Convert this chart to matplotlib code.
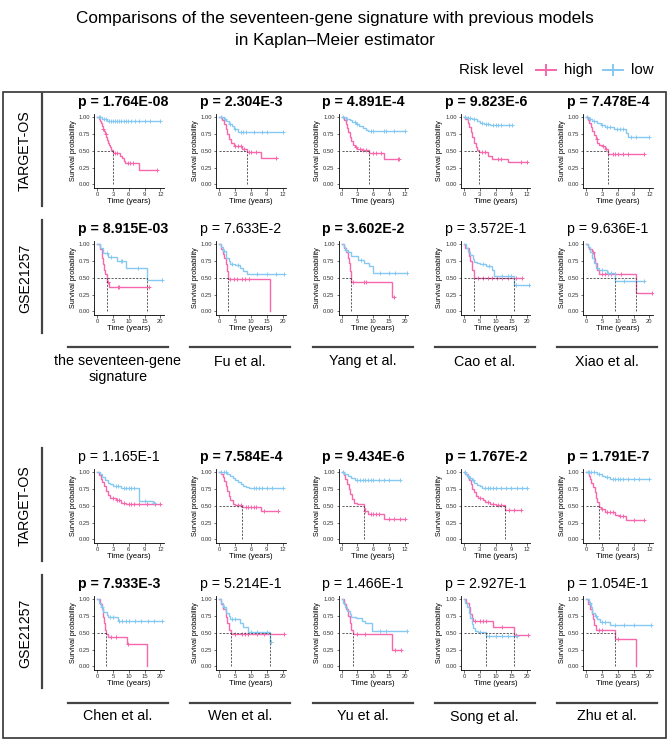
import matplotlib
matplotlib.use('Agg')
import numpy as np
import matplotlib.pyplot as plt
from matplotlib.lines import Line2D
from matplotlib.patches import Rectangle

plt.rcParams['font.family'] = ['Liberation Sans', 'DejaVu Sans']

W, H = 669, 742
HIGH = '#F767AB'
LOW = '#85C9F2'

models = ['the seventeen-gene\nsignature', 'Fu et al.', 'Yang et al.', 'Cao et al.', 'Xiao et al.',
          'Chen et al.', 'Wen et al.', 'Yu et al.', 'Song et al.', 'Zhu et al.']
datasets = ['TARGET-OS', 'GSE21257']
p_target = ['1.764E-08', '2.304E-3', '4.891E-4', '9.823E-6', '7.478E-4',
            '1.165E-1', '7.584E-4', '9.434E-6', '1.767E-2', '1.791E-7']
p_gse = ['8.915E-03', '7.633E-2', '3.602E-2', '3.572E-1', '9.636E-1',
         '7.933E-3', '5.214E-1', '1.466E-1', '2.927E-1', '1.054E-1']

# TARGET-OS, high risk: event times, survival after each step, last follow-up, censored times
target_high_t = [
    [0.3, 0.5, 0.7, 0.9, 1.1, 1.3, 1.5, 1.7, 1.9, 2.1, 2.3, 2.5, 2.7, 2.95, 4.4, 4.7, 5.0, 5.3, 8.0],
    [0.5, 0.8, 1.2, 1.5, 1.8, 2.2, 2.7, 4.2, 5.2, 7.9],
    [0.5, 0.8, 1.0, 1.2, 1.5, 1.8, 2.1, 2.5, 3.0, 3.8, 5.25, 8.0],
    [0.3, 0.7, 1.0, 1.3, 1.6, 1.9, 2.2, 2.5, 2.95, 4.5, 5.3, 8.3],
    [0.3, 0.6, 0.9, 1.2, 1.5, 1.8, 2.1, 2.5, 3.0, 3.6, 4.23],
    [0.4, 0.8, 1.0, 1.3, 1.6, 2.0, 2.5, 3.5, 4.5, 5.5],
    [0.3, 0.6, 0.9, 1.2, 1.5, 1.8, 2.1, 2.5, 3.0, 4.3, 7.9],
    [0.4, 0.7, 1.0, 1.3, 1.6, 2.0, 2.4, 3.0, 4.17, 4.4, 5.0, 8.0],
    [0.3, 0.8, 1.0, 1.3, 1.6, 2.0, 2.3, 2.6, 3.6, 4.0, 5.0, 6.0, 7.8],
    [0.5, 0.8, 1.0, 1.3, 1.6, 1.9, 2.1, 2.34, 2.8, 3.5, 5.4, 6.2, 7.6],
]
target_high_s = [
    [0.97, 0.94, 0.91, 0.87, 0.83, 0.79, 0.75, 0.70, 0.66, 0.62, 0.58, 0.55, 0.52, 0.47, 0.43, 0.39, 0.35, 0.32, 0.21],
    [0.96, 0.90, 0.82, 0.75, 0.68, 0.62, 0.57, 0.53, 0.49, 0.40],
    [0.96, 0.90, 0.84, 0.78, 0.70, 0.64, 0.58, 0.55, 0.53, 0.52, 0.47, 0.38],
    [0.97, 0.92, 0.86, 0.78, 0.70, 0.62, 0.56, 0.52, 0.49, 0.42, 0.38, 0.34],
    [0.96, 0.92, 0.86, 0.80, 0.73, 0.67, 0.62, 0.59, 0.57, 0.53, 0.45],
    [0.96, 0.90, 0.85, 0.80, 0.72, 0.66, 0.62, 0.58, 0.55, 0.53],
    [0.97, 0.93, 0.87, 0.80, 0.72, 0.64, 0.58, 0.53, 0.51, 0.48, 0.43],
    [0.96, 0.90, 0.83, 0.75, 0.68, 0.60, 0.55, 0.53, 0.47, 0.43, 0.38, 0.31],
    [0.97, 0.92, 0.88, 0.82, 0.75, 0.70, 0.65, 0.62, 0.58, 0.56, 0.53, 0.51, 0.44],
    [0.95, 0.90, 0.84, 0.78, 0.70, 0.62, 0.56, 0.49, 0.45, 0.41, 0.37, 0.35, 0.29],
]
target_high_end = [11.3, 10.9, 10.9, 12.0, 10.9, 12.0, 11.1, 12.0, 10.9, 10.9]
target_high_cens = [
    [1.2, 1.6, 3.3, 3.8, 5.8, 6.3, 6.8, 11.3],
    [3.0, 3.5, 4.0, 4.6, 5.6, 6.0, 7.0, 10.7],
    [2.8, 3.5, 4.0, 4.6, 6.0, 6.5, 7.5, 10.6, 10.9],
    [3.5, 4.0, 6.5, 7.0, 10.8, 12.0],
    [2.0, 3.2, 3.8, 5.0, 5.5, 6.0, 7.0, 8.0, 10.9],
    [3.0, 3.8, 4.2, 5.0, 6.0, 6.5, 7.0, 8.0, 9.5, 11.0, 12.0],
    [3.5, 4.0, 5.0, 5.5, 6.0, 6.5, 7.0, 8.5, 11.1],
    [4.5, 5.5, 6.0, 6.5, 7.0, 9.0, 10.0, 11.0, 12.0],
    [3.0, 4.5, 5.5, 6.5, 7.0, 8.5, 9.5, 10.9],
    [3.0, 4.0, 4.5, 5.0, 6.5, 7.0, 9.0, 10.9],
]

# TARGET-OS, low risk
target_low_t = [
    [0.9, 1.9],
    [0.8, 1.2, 1.8, 2.3, 2.8, 3.5],
    [0.8, 1.5, 2.0, 2.8, 3.3, 4.0, 4.6, 5.0],
    [0.5, 1.5, 2.5, 3.0, 3.8, 5.0],
    [0.5, 1.2, 2.0, 2.8, 3.5, 5.3, 7.6, 8.0],
    [0.5, 1.0, 1.5, 2.0, 2.5, 3.0, 4.5, 8.0, 10.5],
    [1.5, 2.0, 2.5, 3.0, 3.5, 4.0, 4.5, 5.0, 5.6],
    [0.5, 1.2, 1.8, 2.5],
    [0.3, 0.6, 1.0, 1.5, 2.0, 2.5, 3.0, 3.5],
    [2.0, 3.0, 3.5, 4.5],
]
target_low_s = [
    [0.98, 0.95],
    [0.98, 0.95, 0.90, 0.87, 0.82, 0.78],
    [0.98, 0.96, 0.93, 0.90, 0.87, 0.84, 0.81, 0.80],
    [0.99, 0.97, 0.95, 0.92, 0.90, 0.88],
    [0.98, 0.95, 0.92, 0.88, 0.86, 0.82, 0.76, 0.71],
    [0.97, 0.93, 0.88, 0.84, 0.82, 0.80, 0.76, 0.57, 0.55],
    [0.98, 0.95, 0.92, 0.89, 0.86, 0.83, 0.80, 0.78, 0.77],
    [0.98, 0.95, 0.92, 0.89],
    [0.98, 0.95, 0.92, 0.88, 0.84, 0.81, 0.79, 0.77],
    [0.98, 0.95, 0.93, 0.90],
]
target_low_end = [11.9, 12.0, 12.0, 9.2, 12.0, 10.8, 12.0, 11.1, 12.0, 12.0]
target_low_cens = [
    [0.3, 0.6, 1.3, 1.6, 2.2, 2.6, 3.0, 3.4, 3.8, 4.2, 4.6, 5.0, 5.4, 5.8, 6.5, 7.2, 8.0, 9.0, 10.0, 11.9],
    [0.3, 1.0, 2.0, 3.0, 4.0, 4.5, 5.0, 6.5, 8.0, 9.0, 12.0],
    [0.3, 1.0, 2.5, 3.0, 5.5, 6.0, 8.0, 8.5, 10.0, 12.0],
    [0.3, 0.8, 1.2, 2.0, 3.4, 4.2, 4.6, 5.5, 6.0, 6.5, 7.0, 8.5, 9.2],
    [0.2, 0.8, 1.5, 3.0, 4.0, 4.6, 5.8, 6.5, 7.0, 8.5, 9.5, 12.0],
    [3.5, 4.0, 5.0, 5.5, 6.0, 6.5, 7.0, 9.0, 10.8],
    [0.3, 0.8, 1.2, 6.5, 7.0, 7.5, 8.0, 9.0, 10.0, 12.0],
    [0.3, 3.0, 3.5, 4.0, 4.5, 5.0, 5.5, 6.0, 7.0, 8.0, 9.0, 11.1],
    [0.2, 0.8, 1.2, 1.8, 4.0, 4.5, 5.0, 5.5, 6.0, 7.0, 8.0, 9.0, 10.0, 11.0, 12.0],
    [0.3, 0.6, 1.0, 1.5, 2.5, 4.0, 5.0, 5.5, 6.0, 6.5, 7.0, 8.0, 9.0, 10.0, 12.0],
]

# GSE21257, high risk
gse_high_t = [
    [0.8, 1.5, 2.0, 2.3, 2.6, 3.0, 3.8],
    [0.5, 1.0, 1.5, 2.0, 2.5, 2.84, 15.9],
    [0.8, 1.5, 2.0, 2.3, 2.6, 2.95, 15.8],
    [0.5, 1.5, 2.0, 2.6, 3.33],
    [0.5, 1.0, 1.8, 2.5, 2.8, 3.3, 4.0, 15.6],
    [0.8, 1.5, 2.0, 2.3, 2.6, 2.9, 3.5, 9.3, 15.7],
    [0.5, 1.2, 2.0, 2.5, 3.0, 3.8],
    [0.8, 1.5, 2.0, 2.5, 3.0, 3.47, 15.8],
    [0.6, 1.5, 2.0, 2.5, 3.0, 9.06, 15.8],
    [0.5, 1.2, 1.8, 2.2, 2.5, 3.0, 9.16, 15.8],
]
gse_high_s = [
    [0.93, 0.80, 0.70, 0.62, 0.55, 0.44, 0.37],
    [0.93, 0.86, 0.80, 0.70, 0.60, 0.48, 0.0],
    [0.95, 0.88, 0.80, 0.72, 0.60, 0.44, 0.22],
    [0.95, 0.82, 0.75, 0.62, 0.50],
    [0.96, 0.93, 0.88, 0.80, 0.72, 0.62, 0.56, 0.28],
    [0.93, 0.85, 0.74, 0.64, 0.55, 0.48, 0.44, 0.33, 0.0],
    [0.93, 0.85, 0.73, 0.65, 0.55, 0.49],
    [0.93, 0.85, 0.75, 0.64, 0.55, 0.49, 0.24],
    [0.95, 0.88, 0.78, 0.72, 0.68, 0.58, 0.47],
    [0.93, 0.86, 0.78, 0.70, 0.62, 0.54, 0.41, 0.0],
]
gse_high_end = [16.4, 15.9, 16.4, 18.4, 20.8, 15.7, 20.5, 18.8, 20.2, 15.8]
gse_high_cens = [
    [3.3, 6.5, 7.0, 16.4],
    [3.5, 4.5, 5.5, 7.0, 8.0, 9.5],
    [3.5, 7.0, 7.6, 16.4],
    [4.5, 6.0, 7.5, 9.0, 10.5, 12.0, 14.0, 16.5, 18.4],
    [2.2, 5.0, 6.0, 7.0, 8.0, 9.0, 11.0, 20.8],
    [4.5, 6.0, 9.8],
    [5.0, 7.0, 8.0, 9.0, 12.0, 14.0, 16.0, 20.5],
    [5.0, 7.5, 17.0, 18.8],
    [3.5, 5.0, 6.0, 7.0, 12.0, 16.5, 20.2],
    [4.0, 5.0, 10.0],
]

# GSE21257, low risk
gse_low_t = [
    [1.0, 2.0, 3.5, 6.3, 9.0, 15.8],
    [0.5, 1.0, 2.0, 3.0, 3.5, 5.0, 6.5, 7.6, 8.6],
    [0.6, 1.2, 2.0, 2.95, 5.05, 7.2, 8.7, 9.8],
    [0.8, 1.4, 2.0, 2.8, 3.3, 4.0, 5.0, 7.0, 9.0, 9.5, 15.8],
    [0.5, 1.2, 1.8, 2.4, 3.2, 4.0, 6.5, 9.16],
    [0.6, 1.2, 2.0, 3.0, 3.5, 6.6],
    [0.6, 1.2, 2.0, 3.0, 3.5, 6.5, 7.5, 9.0, 16.06],
    [0.5, 1.2, 1.8, 2.5, 3.0, 4.5, 6.5, 7.5, 9.5],
    [0.5, 1.0, 1.5, 2.0, 2.5, 3.0, 3.5, 4.5, 6.98],
    [0.8, 1.5, 2.0, 2.8, 3.5, 4.5, 7.5],
]
gse_low_s = [
    [0.94, 0.87, 0.81, 0.75, 0.64, 0.47],
    [0.96, 0.90, 0.80, 0.75, 0.70, 0.69, 0.65, 0.60, 0.55],
    [0.96, 0.92, 0.88, 0.82, 0.77, 0.72, 0.67, 0.575],
    [0.95, 0.88, 0.84, 0.78, 0.74, 0.72, 0.70, 0.67, 0.61, 0.53, 0.40],
    [0.96, 0.88, 0.80, 0.72, 0.65, 0.62, 0.57, 0.46],
    [0.95, 0.88, 0.81, 0.76, 0.73, 0.68],
    [0.95, 0.88, 0.80, 0.75, 0.70, 0.64, 0.58, 0.52, 0.36],
    [0.95, 0.88, 0.83, 0.78, 0.74, 0.72, 0.68, 0.65, 0.53],
    [0.95, 0.88, 0.80, 0.72, 0.63, 0.57, 0.53, 0.51, 0.46],
    [0.95, 0.88, 0.80, 0.75, 0.70, 0.66, 0.61],
]
gse_low_end = [20.5, 20.3, 20.5, 20.5, 18.2, 20.5, 16.2, 20.5, 16.9, 20.5]
gse_low_cens = [
    [3.0, 4.5, 7.5, 8.0, 13.0, 20.5],
    [1.5, 4.0, 6.0, 12.0, 15.0, 18.0, 20.3],
    [1.5, 6.0, 12.0, 15.0, 17.0, 20.5],
    [6.0, 8.0, 12.0, 14.0, 15.0, 16.5, 20.5],
    [5.0, 7.0, 8.0, 12.0, 18.2],
    [1.5, 4.0, 5.0, 7.0, 8.0, 9.0, 10.0, 12.0, 14.0, 16.0, 18.0, 20.5],
    [1.5, 4.0, 5.0, 10.0, 12.0, 15.0, 16.2],
    [12.0, 14.0, 20.5],
    [5.0, 8.0, 10.0, 12.0, 14.0, 16.9],
    [1.2, 3.0, 5.0, 6.0, 9.0, 12.0, 15.0, 20.5],
]

fig = plt.figure(figsize=(W / 100, H / 100), dpi=100)


def fx(x):
    return x / W


def fy(y):
    return 1 - y / H


def surv_at(t, s, x):
    i = np.searchsorted(t, x, side='right')
    return 1.0 if i == 0 else s[i - 1]


def km_panel(ax, curves, xmax, step):
    meds = []
    for t, s, end, cens, col in curves:
        ax.plot([0] + t + [end], [1] + s + [s[-1]], drawstyle='steps-post',
                color=col, lw=1.0, solid_joinstyle='miter')
        ax.plot(cens, [surv_at(t, s, c) for c in cens], ls='none', marker='+',
                ms=3.4, mew=0.7, color=col)
        below = [ti for ti, si in zip(t, s) if si <= 0.5]
        if below:
            meds.append(below[0])
    if meds:
        ax.plot([0, max(meds)], [0.5, 0.5], color='#333333', lw=0.55, dashes=(2.8, 1.8))
        for m in meds:
            ax.plot([m, m], [0, 0.5], color='#333333', lw=0.55, dashes=(2.8, 1.8))
    pad = xmax * 0.05
    ax.set_xlim(-pad, xmax + pad)
    ax.set_ylim(-0.05, 1.05)
    ax.set_xticks(np.arange(0, xmax + 0.1, step))
    ax.set_yticks([0, 0.25, 0.5, 0.75, 1.0])
    ax.set_yticklabels(['0.00', '0.25', '0.50', '0.75', '1.00'])
    for side in ['top', 'right']:
        ax.spines[side].set_visible(False)
    for side in ['left', 'bottom']:
        ax.spines[side].set_linewidth(0.6)
    ax.tick_params(labelsize=4.2, length=1.8, width=0.5, pad=1, colors='#333333')
    ax.set_ylabel('Survival probability', fontsize=5.2, labelpad=1.5)
    ax.set_xlabel('Time (years)', fontsize=5.6, labelpad=1)


col_left = [94, 216.25, 338.5, 460.75, 583]
row_top = [114, 241, 469, 596]
ax_w, ax_h = 69.6, 73.7

for k in range(10):
    block, c = divmod(k, 5)
    for d in range(2):
        top = row_top[block * 2 + d]
        ax = fig.add_axes([fx(col_left[c]), fy(top + ax_h), ax_w / W, ax_h / H])
        if d == 0:
            curves = [(target_high_t[k], target_high_s[k], target_high_end[k], target_high_cens[k], HIGH),
                      (target_low_t[k], target_low_s[k], target_low_end[k], target_low_cens[k], LOW)]
            km_panel(ax, curves, 12, 3)
            p = p_target[k]
        else:
            curves = [(gse_high_t[k], gse_high_s[k], gse_high_end[k], gse_high_cens[k], HIGH),
                      (gse_low_t[k], gse_low_s[k], gse_low_end[k], gse_low_cens[k], LOW)]
            km_panel(ax, curves, 20, 5)
            p = p_gse[k]
        fig.text(fx(col_left[c] - 16), fy(top - 12), 'p = ' + p, fontsize=10.2,
                 fontweight='bold' if float(p) < 0.05 else 'normal', ha='left', va='center')

# row labels with vertical bars
for block in range(2):
    for d in range(2):
        top = row_top[block * 2 + d]
        fig.text(fx(25), fy(top + ax_h / 2), datasets[d], rotation=90, fontsize=10.2,
                 ha='center', va='center')
        fig.add_artist(Line2D([fx(42), fx(42)], [fy(top - 21), fy(top + ax_h + 18)],
                              color='#444444', lw=1.6))

# column labels with horizontal bars
for k in range(10):
    block, c = divmod(k, 5)
    cx = col_left[c] + 24
    by = [347.5, 702.5][block]
    fig.add_artist(Line2D([fx(cx - 50), fx(cx + 50)], [fy(by), fy(by)], color='#444444', lw=1.6))
    fig.text(fx(cx), fy(by + 7), models[k], fontsize=10.3, ha='center', va='top', linespacing=1.15)

# outer frame
fig.add_artist(Rectangle((fx(3), fy(738)), (666 - 3) / W, (738 - 92) / H, transform=fig.transFigure,
                         fill=False, ec='#333333', lw=1.2))

# title and legend
fig.text(0.5, fy(18), 'Comparisons of the seventeen-gene signature with previous models',
         fontsize=12.3, ha='center', va='center')
fig.text(0.5, fy(40), 'in Kaplan\u2013Meier estimator', fontsize=12.3, ha='center', va='center')
fig.text(fx(459), fy(70), 'Risk level', fontsize=10.8, ha='left', va='center')
for x0, col, lab in [(536, HIGH, 'high'), (603, LOW, 'low')]:
    fig.add_artist(Line2D([fx(x0), fx(x0 + 20)], [fy(70), fy(70)], color=col, lw=1.4))
    fig.add_artist(Line2D([fx(x0 + 10)], [fy(70)], color=col, marker='+', ms=8, mew=1.4))
    fig.text(fx(x0 + 28), fy(70), lab, fontsize=10.8, ha='left', va='center')

fig.savefig('out.png', dpi=100)
